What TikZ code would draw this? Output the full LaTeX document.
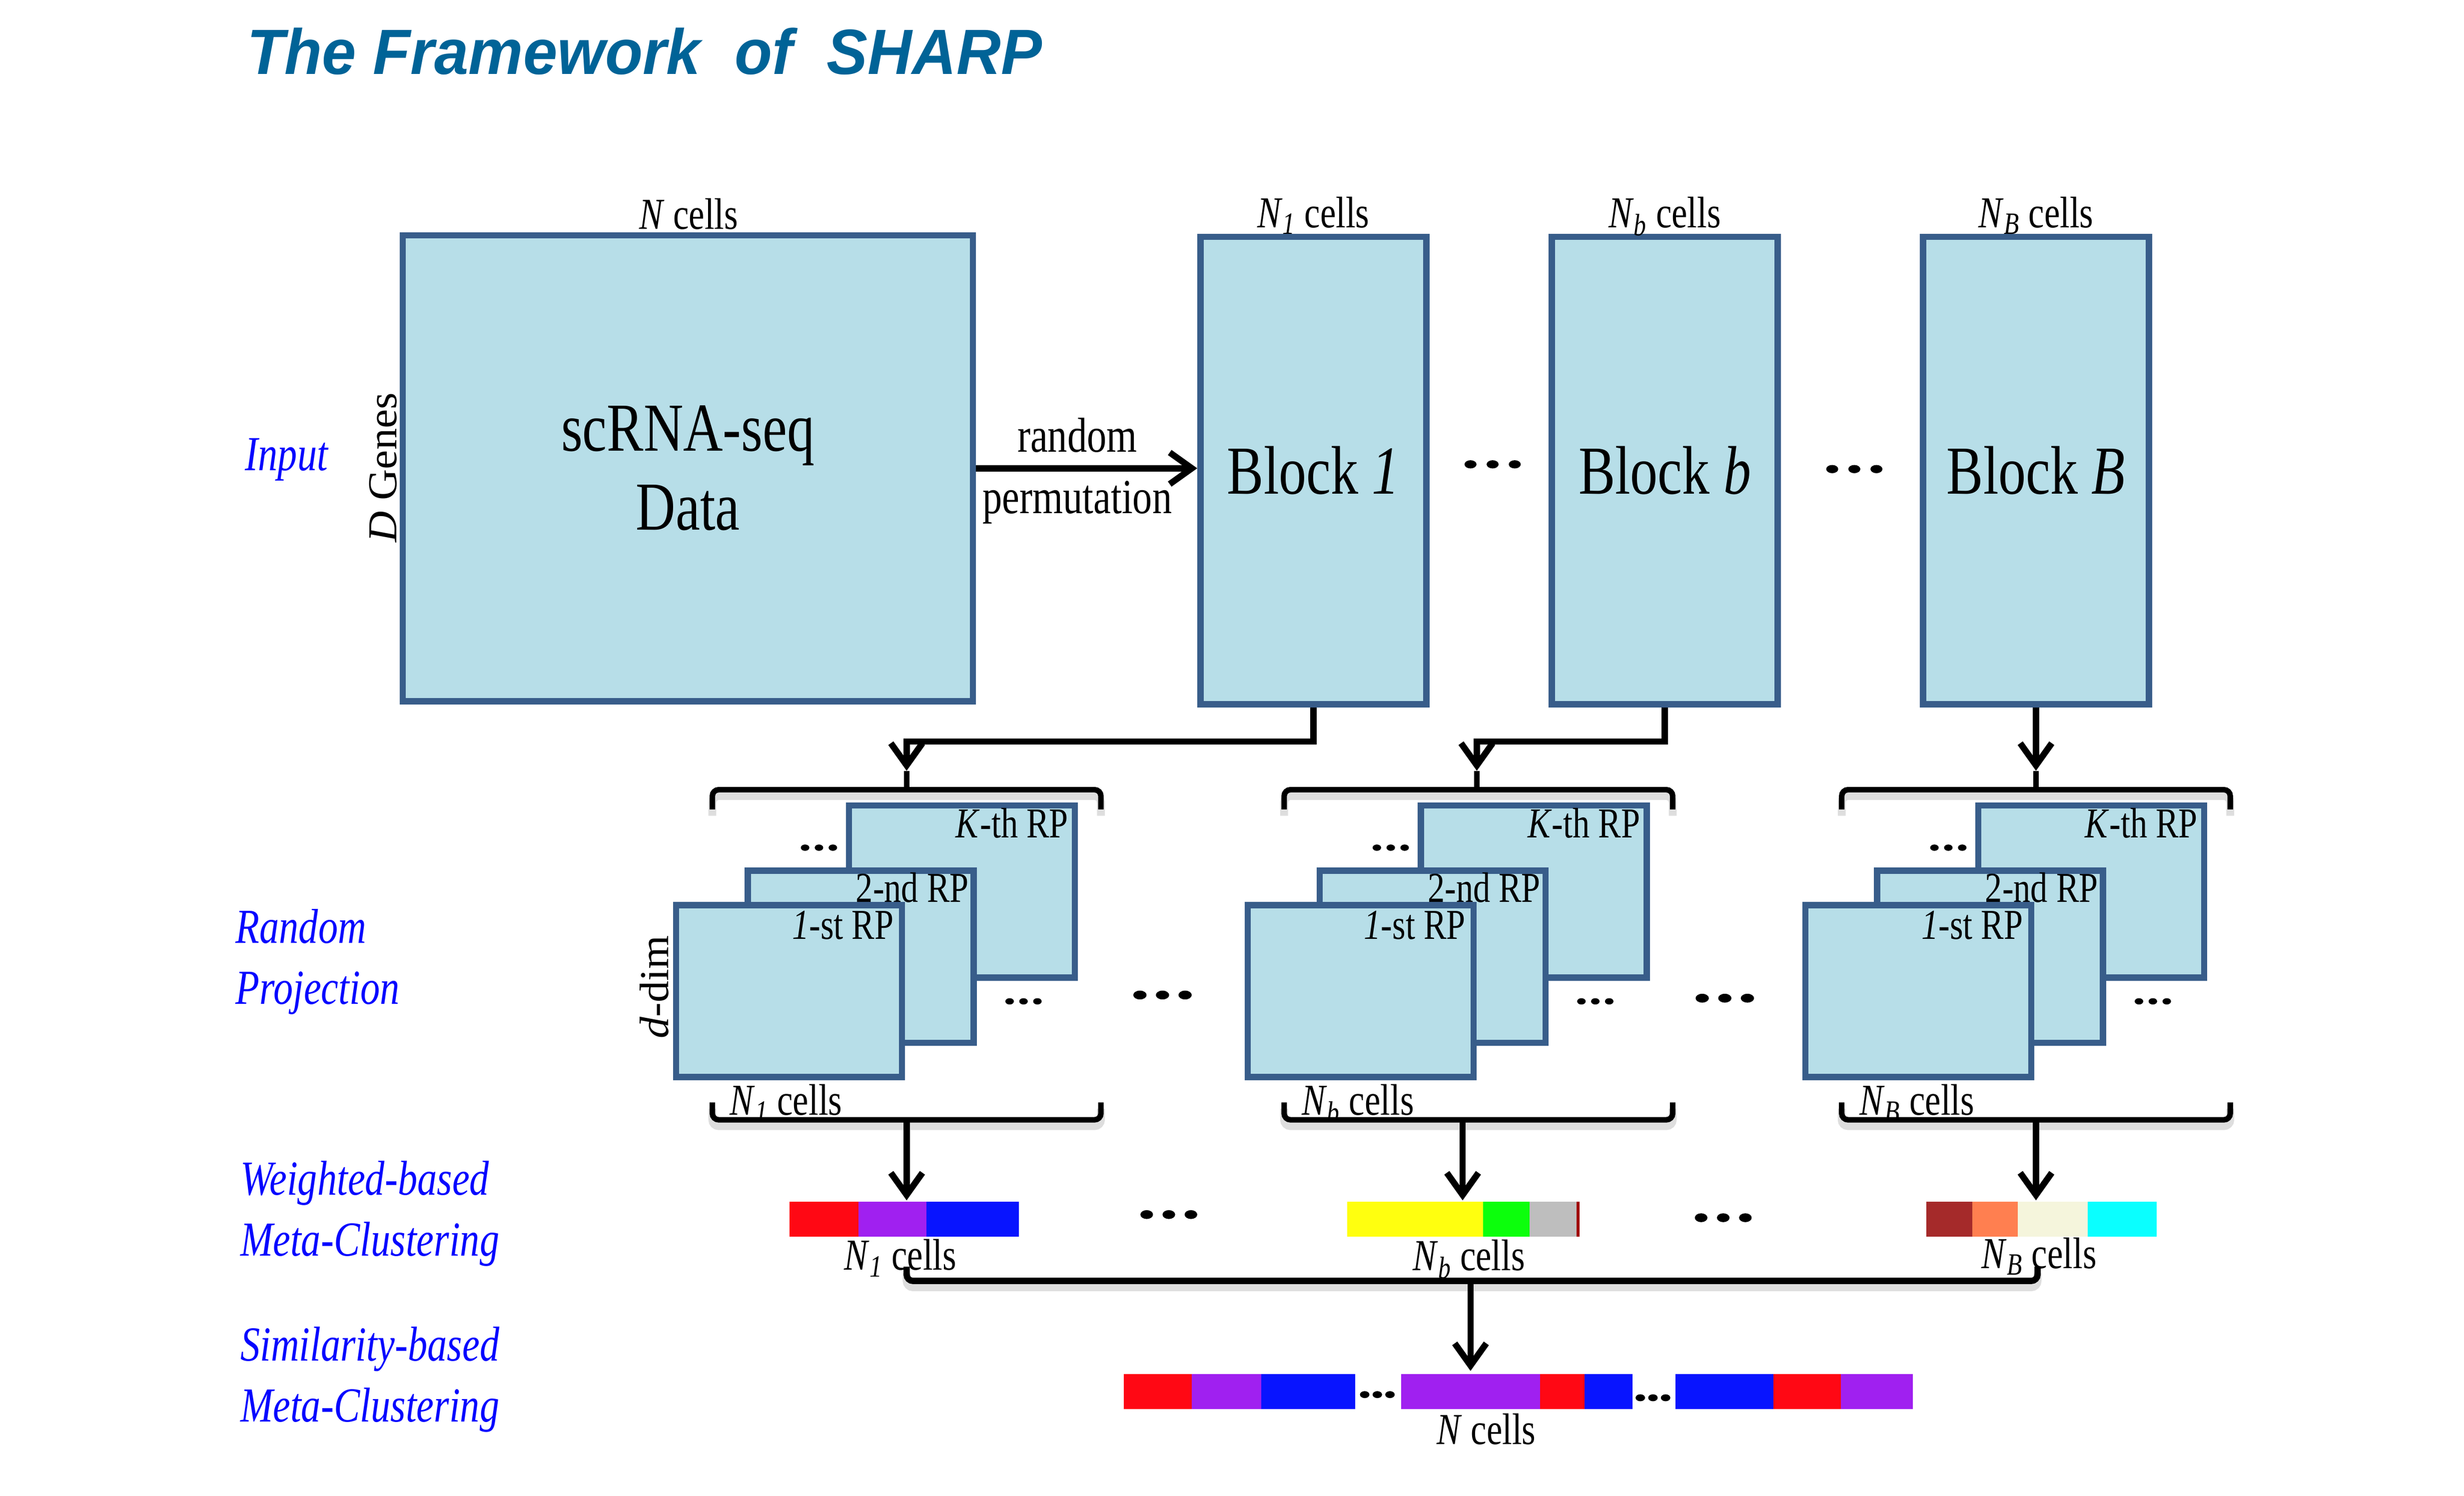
\documentclass[tikz,border=0pt]{standalone}
\usepackage{fontspec}
\setmainfont{Liberation Serif}[FakeStretch=0.8]
\newfontfamily\rotfont{Liberation Serif}[FakeStretch=1.05]
\newfontfamily\titlefont{Liberation Sans}[FakeStretch=0.96]
\usetikzlibrary{arrows.meta}
\definecolor{boxfill}{RGB}{183,222,232}
\definecolor{boxline}{RGB}{56,93,138}
\definecolor{titleblue}{RGB}{0,99,151}
\definecolor{stageblue}{RGB}{5,5,255}
\definecolor{cred}{RGB}{255,8,20}
\definecolor{cpurple}{RGB}{160,32,240}
\definecolor{cblue}{RGB}{8,20,255}
\definecolor{cyellow}{RGB}{255,255,15}
\definecolor{cgreen}{RGB}{12,255,12}
\definecolor{cgray}{RGB}{190,190,190}
\definecolor{cdarkred}{RGB}{160,0,0}
\definecolor{cbrown}{RGB}{165,42,42}
\definecolor{corange}{RGB}{255,127,80}
\definecolor{cbeige}{RGB}{245,245,220}
\definecolor{ccyan}{RGB}{10,255,255}
\tikzset{
box/.style={draw=boxline, fill=boxfill, line width=4pt, inner sep=0pt},
rpbox/.style={box, minimum width=143pt, minimum height=109pt},
big/.style={font=\fontsize{43.5}{50}\selectfont},
arr/.style={line width=4pt, -{Straight Barb[length=14pt,width=20pt]}},
brace/.style={line width=3.5pt, rounded corners=4pt,
	preaction={draw=black!13, line width=5pt, transform canvas={yshift=-4pt}}},
stage/.style={text=stageblue, align=left, anchor=west, inner sep=0pt,
	font=\fontsize{31}{38.5}\selectfont\itshape},
cellsl/.style={font=\fontsize{28}{30}\selectfont, inner sep=0pt, anchor=base},
rplab/.style={font=\fontsize{27}{29}\selectfont, inner sep=0pt, anchor=base east},
vlab/.style={rotate=90, anchor=base, inner sep=0pt, font=\rotfont\fontsize{26}{28}\selectfont}
}
\newcommand{\ncells}[1]{\textit{N}\textsubscript{\textit{#1}} cells}
\newcommand{\threedots}[5]{\foreach \k in {-1,0,1} \fill ({#1+\k*#3},#2) ellipse ({#4pt} and {#5pt});}

\begin{document}
\begin{tikzpicture}[x=1pt, y=-1pt]
	\useasboundingbox (0,0) rectangle (1560,947);
	\node[anchor=base, text=titleblue, font=\titlefont\fontsize{40.5}{44}\selectfont\bfseries\itshape] (title) at (408,47) {The Framework\ \ of\ \ SHARP};

	\node[box, big, align=center, minimum width=361pt, minimum height=295pt] (data) at (435.5,296.5) {scRNA-seq\\Data};
	\node[cellsl] (ntop) at (436,145) {\textit{N} cells};
	\node[vlab] (genes) at (251,296) {\textit{D} Genes};
	\node[stage, anchor=base west] (input) at (155,298) {Input};
	\foreach \n/\x in {1/831.5, b/1054, B/1289} {
		\node[box, big, minimum width=143pt, minimum height=296pt] (blk\n) at (\x,298) {Block \textit{\n}};
		\node[cellsl] (top\n) at (\x,144) {\ncells{\n}};
	}
	\draw[arr] (data.east) -- (data.east -| blk1.west);
	\node[cellsl, font=\fontsize{31}{33}\selectfont] (rnd) at (682,286) {random};
	\node[cellsl, font=\fontsize{31}{33}\selectfont] (perm) at (682,325) {permutation};
	\threedots{945}{294}{14}{3.8}{2.6}
	\threedots{1174}{297}{14}{3.8}{2.6}

	\node[stage] (rproj) at (149,609) {Random\\Projection};
	\node[vlab] (ddim) at (423,625) {\textit{d}-dim};
	\foreach \g/\dx/\ta/\tb in {1/0/574/574, b/362/935/926, B/715/1289/1289} {
		\node[rpbox] (rp\g-K) at ({609+\dx},564.5) {};
		\node[rpbox] (rp\g-2) at ({545+\dx},605.75) {};
		\node[rpbox] (rp\g-1) at ({499.5+\dx},627.5) {};
		\node[rplab] (lab\g-K) at ([shift={(-6,22.5)}]rp\g-K.north east) {\textit{K}-th RP};
		\node[rplab] (lab\g-2) at ([shift={(-5,22)}]rp\g-2.north east) {2-nd RP};
		\node[rplab] (lab\g-1) at ([shift={(-7,23.5)}]rp\g-1.north east) {\textit{1}-st RP};
		\node[cellsl, anchor=base west] (bot\g) at ({462+\dx},706) {\ncells{\g}};
		\threedots{518.5+\dx}{536.7}{8.8}{2.7}{2}
		\threedots{648+\dx}{634}{8.8}{2.7}{2}
		\coordinate (in\g) at (\ta,488);
		\coordinate (out\g) at (\tb,709);
		\coordinate (bar\g) at (\tb,760);
		\draw[brace] ({451+\dx},512.5) -- ({451+\dx},500) -- ({697+\dx},500) -- ({697+\dx},512.5);
		\draw[line width=3.5pt] (\ta,500) -- (in\g);
		\draw[brace] ({451+\dx},698) -- ({451+\dx},709) -- ({697+\dx},709) -- ({697+\dx},698);
		\draw[arr] (out\g) -- (bar\g);
	}
	\draw[arr] (blk1.south) -- ++(0,21.5) -| (in1);
	\draw[arr] (blkb.south) -- ++(0,21.5) -| (inb);
	\draw[arr] (blkB.south) -- (inB);
	\threedots{736}{630}{14.3}{4.2}{2.8}
	\threedots{1092}{632}{14.3}{4.2}{2.8}

	\node[stage] (wmeta) at (152,768.4) {Weighted-based\\Meta-Clustering};
	\foreach \a/\b/\c in {500/543.5/cred, 543.5/586.5/cpurple, 586.5/645/cblue,
		853/939/cyellow, 939/968.4/cgreen, 968.4/998/cgray, 998/1000/cdarkred,
		1219.6/1248.7/cbrown, 1248.7/1277.6/corange, 1277.6/1321.7/cbeige, 1321.7/1365.4/ccyan}
		\fill[\c] (\a,761) rectangle (\b,783);
	\node[cellsl] (w1) at (570,804) {\ncells{1}};
	\node[cellsl] (wb) at (930,804.5) {\ncells{b}};
	\node[cellsl] (wB) at (1291,803) {\ncells{B}};
	\threedots{740}{769}{14}{4}{2.8}
	\threedots{1091}{771}{14}{4}{2.8}

	\node[stage] (smeta) at (152,873.5) {Similarity-based\\Meta-Clustering};
	\coordinate (join1) at (574,802);
	\coordinate (joinB) at (1290,802);
	\coordinate (hub) at (931,811);
	\coordinate (final) at (931,868);
	\draw[brace, line width=4pt] (join1) |- (hub) -| (joinB);
	\draw[arr] (hub) -- (final);
	\foreach \a/\b/\c in {711.6/754.5/cred, 754.5/798.4/cpurple, 798.4/858/cblue,
		887/975/cpurple, 975/1003.2/cred, 1003.2/1033.4/cblue,
		1060.7/1122.7/cblue, 1122.7/1165.6/cred, 1165.6/1211/cpurple}
		\fill[\c] (\a,870) rectangle (\b,892);
	\threedots{872}{883}{8}{3}{2.2}
	\threedots{1046.5}{885}{8}{3}{2.2}
	\node[cellsl] (nfin) at (941,914.6) {\textit{N} cells};
\end{tikzpicture}
\end{document}
